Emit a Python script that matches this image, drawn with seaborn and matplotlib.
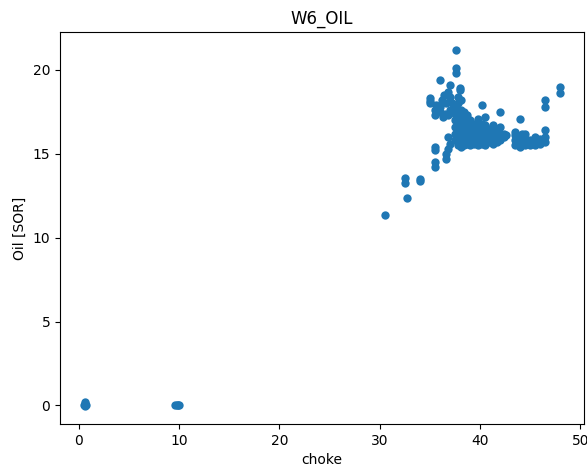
import matplotlib
matplotlib.use("Agg")
import matplotlib.pyplot as plt
import seaborn as sns
import pandas as pd

# choke opening vs oil rate for well W6
choke = [
    0.5, 0.6, 0.6, 0.7, 0.6,
    9.6, 9.8, 9.9, 10.0,
    30.5, 32.5, 32.5, 32.7, 34.0, 34.0,
    35.5, 35.5, 35.5, 35.5, 36.6, 36.6, 36.8, 36.8, 37.0,
    37.6, 37.6, 37.6, 36.0, 37.0, 38.0, 38.0,
    35.0, 35.0, 35.0, 35.5, 35.5, 35.6,
    36.0, 36.0, 36.2, 36.4, 36.5, 36.6, 36.8, 37.0, 37.0, 37.2, 36.3, 36.8,
    37.5, 37.5, 37.5, 37.5, 37.5, 37.5,
    37.8, 37.8, 37.8, 37.8, 37.8, 37.8, 37.8, 37.8,
    38.1, 38.1, 38.1, 38.1, 38.1, 38.1, 38.1, 38.1,
    38.4, 38.4, 38.4, 38.4, 38.4, 38.4,
    38.7, 38.7, 38.7, 38.7, 38.7,
    39.0, 39.0, 39.0, 39.0, 39.0,
    39.4, 39.4, 39.4, 39.4,
    39.8, 39.8, 39.8, 39.8, 39.8,
    40.2, 40.2, 40.2, 40.2, 40.2,
    40.5, 40.5, 40.5, 40.5, 40.5,
    40.9, 40.9, 40.9,
    41.3, 41.3, 41.3, 41.3,
    41.7, 41.7, 41.7,
    42.0, 42.0, 42.0, 42.0,
    42.4, 42.4, 42.6,
    43.5, 43.5, 43.5, 43.5,
    44.0, 44.0, 44.0, 44.0,
    44.2, 44.2,
    44.5, 44.5, 44.5,
    45.0, 45.0,
    45.5, 45.5, 45.5,
    46.0, 46.0,
    46.5, 46.5, 46.5, 46.5, 46.5,
    48.0, 48.0,
]
oil = [
    0.0, 0.2, 0.1, 0.05, -0.05,
    0.0, 0.02, 0.0, 0.0,
    11.37, 13.55, 13.25, 12.36, 13.5, 13.4,
    14.5, 14.2, 15.4, 15.2, 15.0, 14.7, 15.3, 16.0, 15.6,
    21.2, 20.1, 19.8, 19.4, 19.1, 18.9, 18.8,
    18.3, 18.0, 18.15, 17.6, 17.3, 17.9,
    17.5, 17.8, 18.2, 18.5, 17.4, 18.0, 18.7, 18.4, 17.6, 18.0, 17.2, 17.3,
    15.8, 16.2, 16.6, 17.0, 17.4, 17.8,
    15.5, 15.9, 16.3, 16.7, 17.1, 17.5, 18.0, 18.4,
    15.4, 15.7, 16.0, 16.4, 16.8, 17.2, 17.6, 18.2,
    15.5, 15.9, 16.3, 16.7, 17.1, 17.5,
    15.6, 16.0, 16.4, 16.8, 17.3,
    15.5, 15.9, 16.3, 16.7, 17.0,
    15.6, 16.0, 16.4, 16.8,
    15.5, 15.9, 16.3, 16.7, 17.1,
    15.6, 16.0, 16.4, 16.8, 17.9,
    15.5, 15.9, 16.3, 16.7, 17.2,
    15.7, 16.1, 16.5,
    15.6, 16.0, 16.4, 16.7,
    15.7, 16.1, 16.5,
    15.8, 16.2, 16.6, 17.5,
    16.0, 16.2, 16.1,
    15.5, 15.8, 16.1, 16.3,
    15.4, 15.7, 16.0, 17.1,
    15.9, 16.2,
    15.5, 15.8, 16.2,
    15.5, 15.8,
    15.5, 15.7, 16.0,
    15.6, 15.9,
    15.7, 16.0, 16.4, 17.8, 18.2,
    18.6, 19.0,
]

df = pd.DataFrame({"choke": choke, "oil": oil})

fig, ax = plt.subplots(figsize=(5.87, 4.69), dpi=100)
fig.subplots_adjust(left=0.1022, right=0.9949, top=0.9318, bottom=0.0959)

sns.scatterplot(data=df, x="choke", y="oil", ax=ax, color="#1f77b4",
                s=36, linewidth=0, alpha=1)

ax.set_title("W6_OIL")
ax.set_xlabel("choke")
ax.set_ylabel("Oil [SOR]")

fig.savefig("out.png", dpi=100)
